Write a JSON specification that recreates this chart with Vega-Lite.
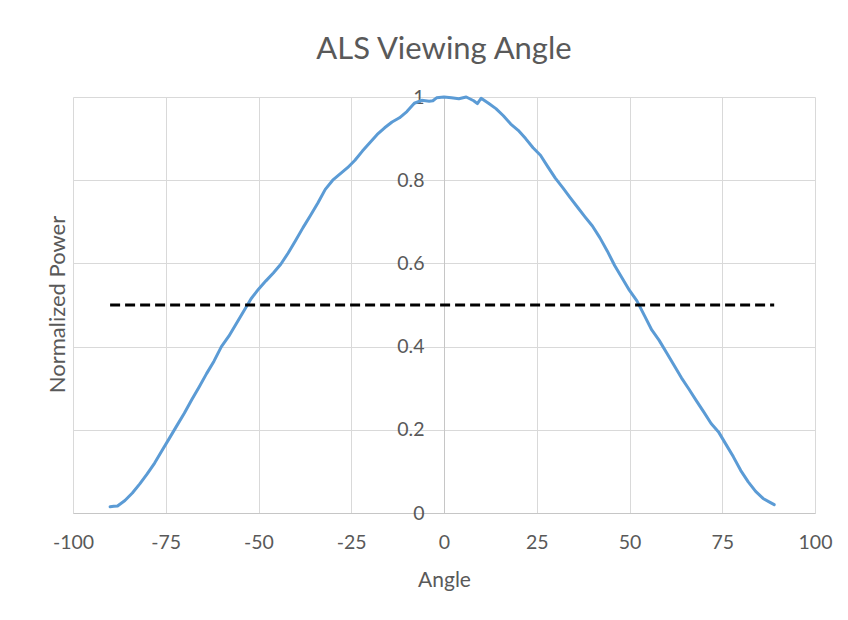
{
  "$schema": "https://vega.github.io/schema/vega-lite/v6.json",
  "autosize": {"type": "none"},
  "padding": {"left": 73, "top": 97, "right": 33, "bottom": 107},
  "width": 742,
  "height": 416,
  "background": "white",
  "config": {
    "view": {"stroke": null},
    "font": "Lato",
    "axis": {"labelFont": "Lato", "titleFont": "Lato", "labelColor": "#595959", "titleColor": "#595959", "gridColor": "#d9d9d9", "gridWidth": 1, "domainColor": "#c6c6c6", "ticks": false, "titleFontWeight": "normal", "labelFlush": false}
  },
  "title": {"text": "ALS Viewing Angle", "font": "Lato", "fontSize": 31, "fontWeight": "normal", "color": "#595959", "offset": 21},
  "datasets": {
    "curve": [
      {"angle": -90, "power": 0.015}, {"angle": -89, "power": 0.016}, {"angle": -88, "power": 0.017},
      {"angle": -86, "power": 0.030}, {"angle": -84, "power": 0.048}, {"angle": -82, "power": 0.070},
      {"angle": -80, "power": 0.094}, {"angle": -78, "power": 0.120}, {"angle": -76, "power": 0.150},
      {"angle": -74, "power": 0.180}, {"angle": -72, "power": 0.210}, {"angle": -70, "power": 0.240},
      {"angle": -68, "power": 0.272}, {"angle": -66, "power": 0.303}, {"angle": -64, "power": 0.335},
      {"angle": -62, "power": 0.365}, {"angle": -60, "power": 0.400}, {"angle": -58, "power": 0.425},
      {"angle": -56, "power": 0.455}, {"angle": -54, "power": 0.485}, {"angle": -52, "power": 0.515},
      {"angle": -50, "power": 0.538}, {"angle": -48, "power": 0.558}, {"angle": -46, "power": 0.577},
      {"angle": -44, "power": 0.598}, {"angle": -42, "power": 0.625}, {"angle": -40, "power": 0.655},
      {"angle": -38, "power": 0.686}, {"angle": -36, "power": 0.715}, {"angle": -34, "power": 0.745},
      {"angle": -32, "power": 0.778}, {"angle": -30, "power": 0.800}, {"angle": -28, "power": 0.815},
      {"angle": -26, "power": 0.830}, {"angle": -24, "power": 0.848}, {"angle": -22, "power": 0.870},
      {"angle": -20, "power": 0.890}, {"angle": -18, "power": 0.910}, {"angle": -16, "power": 0.926},
      {"angle": -14, "power": 0.940}, {"angle": -12, "power": 0.950}, {"angle": -10, "power": 0.965},
      {"angle": -8, "power": 0.985}, {"angle": -6, "power": 0.992}, {"angle": -4, "power": 0.990},
      {"angle": -3, "power": 0.991}, {"angle": -2, "power": 0.998}, {"angle": 0, "power": 1.0},
      {"angle": 2, "power": 0.998}, {"angle": 4, "power": 0.996}, {"angle": 6, "power": 1.0},
      {"angle": 8, "power": 0.991}, {"angle": 9, "power": 0.984}, {"angle": 10, "power": 0.997},
      {"angle": 12, "power": 0.985}, {"angle": 14, "power": 0.972}, {"angle": 16, "power": 0.955},
      {"angle": 18, "power": 0.935}, {"angle": 20, "power": 0.920}, {"angle": 22, "power": 0.900},
      {"angle": 24, "power": 0.878}, {"angle": 26, "power": 0.860}, {"angle": 28, "power": 0.832},
      {"angle": 30, "power": 0.805}, {"angle": 32, "power": 0.782}, {"angle": 34, "power": 0.758},
      {"angle": 36, "power": 0.735}, {"angle": 38, "power": 0.712}, {"angle": 40, "power": 0.690},
      {"angle": 42, "power": 0.662}, {"angle": 44, "power": 0.630}, {"angle": 46, "power": 0.595},
      {"angle": 48, "power": 0.565}, {"angle": 50, "power": 0.535}, {"angle": 52, "power": 0.510},
      {"angle": 54, "power": 0.475}, {"angle": 56, "power": 0.440}, {"angle": 58, "power": 0.415},
      {"angle": 60, "power": 0.385}, {"angle": 62, "power": 0.355}, {"angle": 64, "power": 0.325},
      {"angle": 66, "power": 0.298}, {"angle": 68, "power": 0.270}, {"angle": 70, "power": 0.243},
      {"angle": 72, "power": 0.215}, {"angle": 74, "power": 0.195}, {"angle": 76, "power": 0.165},
      {"angle": 78, "power": 0.135}, {"angle": 80, "power": 0.102}, {"angle": 82, "power": 0.075},
      {"angle": 84, "power": 0.052}, {"angle": 86, "power": 0.035}, {"angle": 88, "power": 0.025},
      {"angle": 89, "power": 0.020}
    ],
    "half": [
      {"angle": -90, "power": 0.5}, {"angle": 89, "power": 0.5}
    ]
  },
  "layer": [
    {
      "data": {"name": "curve"},
      "mark": {"type": "line", "color": "#5B9BD5", "strokeWidth": 3, "strokeCap": "round", "strokeJoin": "round"},
      "encoding": {
        "x": {"field": "angle", "type": "quantitative",
          "scale": {"domain": [-100, 100], "nice": false},
          "axis": {"values": [-100, -75, -50, -25, 0, 25, 50, 75, 100], "labelExpr": "'' + datum.value", "labelFontSize": 19.5, "labelPadding": 20, "title": "Angle", "titleFontSize": 21, "titlePadding": 18}},
        "y": {"field": "power", "type": "quantitative",
          "scale": {"domain": [0, 1], "nice": false},
          "axis": {"values": [0, 0.2, 0.4, 0.6, 0.8, 1], "format": "~g", "labelFontSize": 19.5, "labelPadding": 20, "offset": -371, "title": "Normalized Power", "titleFontSize": 22, "titleX": -387, "titleY": 207, "titleBaseline": "middle"}}
      }
    },
    {
      "data": {"name": "half"},
      "mark": {"type": "line", "color": "#000000", "strokeWidth": 3, "strokeDash": [10, 5]},
      "encoding": {
        "x": {"field": "angle", "type": "quantitative"},
        "y": {"field": "power", "type": "quantitative"}
      }
    }
  ]
}
